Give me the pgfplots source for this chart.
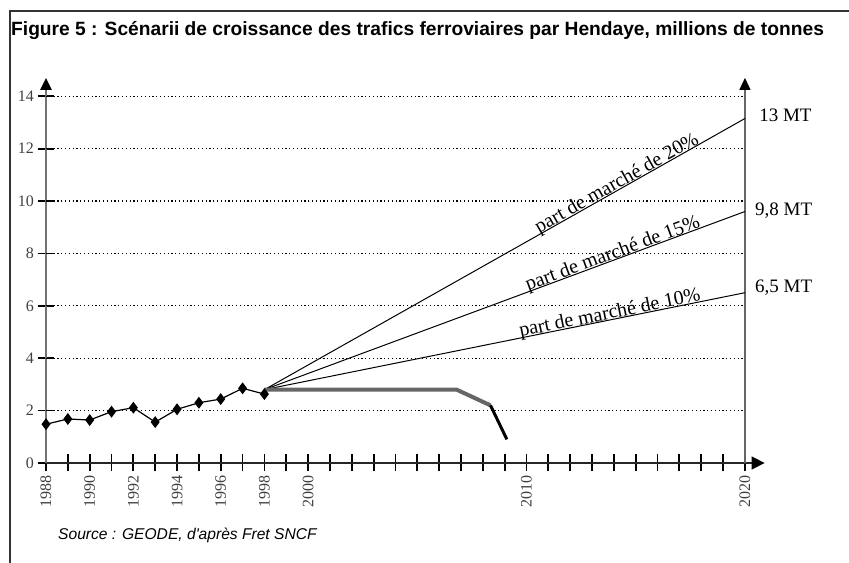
\documentclass[border=0pt]{standalone}
\usepackage{fontspec}
\setmainfont{Liberation Serif}
\newfontfamily\arial{Liberation Sans}
\usepackage{pgfplots}
\pgfplotsset{compat=1.18}
\usetikzlibrary{arrows.meta}
\begin{document}
\begin{tikzpicture}[x=1bp,y=1bp]
\useasboundingbox (0,0) rectangle (849,563);
\draw[line width=1.5bp, black!80] (10,0) -- (10,552) -- (849,552);
\node[anchor=base west, inner sep=0] at (11,527) {\arial\bfseries\fontsize{19.2bp}{22bp}\selectfont Figure 5 : Scénarii de croissance des trafics ferroviaires par Hendaye, millions de tonnes};
\node[anchor=base west, inner sep=0] at (58,23) {\arial\itshape\fontsize{15.6bp}{18bp}\selectfont Source : GEODE, d'après Fret SNCF};
\begin{axis}[
 at={(46bp,100bp)}, anchor=south west, scale only axis,
 width=718.6bp, height=385.1bp,
 xmin=1988, xmax=2020.9, ymin=0, ymax=14.7,
 axis lines=left, clip=false,
 x axis line style={draw=black!85, line width=1.5bp, -{Triangle[length=13bp,width=13bp,color=black]}},
 y axis line style={draw=black!55, line width=2.5bp, -{Triangle[length=12bp,width=11bp,color=black]}},
 xtick={1988,1989,...,2020},
 xticklabels={1988,,1990,,1992,,1994,,1996,,1998,,2000,,,,,,,,,,2010,,,,,,,,,,2020},
 ytick={0,2,...,14},
 tick align=center, major tick length=17bp,
 every tick/.style={black, line width=1.8bp},
 xticklabel style={rotate=90, anchor=east, font=\fontsize{16bp}{16bp}\selectfont, text=black!75},
 yticklabel style={font=\fontsize{16bp}{16bp}\selectfont, text=black!75},
 /pgf/number format/assume math mode=true,
]
\pgfplotsinvokeforeach{2,4,...,14}{
 \draw[black, line width=1.2bp, dash pattern=on 1.2bp off 2.6bp] (axis cs:1988,#1) -- (axis cs:2020,#1);
}
\draw[black!60, line width=1.3bp, -{Triangle[length=12bp,width=11bp,color=black]}] (axis cs:2020,0) -- (axis cs:2020,14.7);
\addplot[black, line width=1.2bp, mark=diamond*, mark size=5bp] coordinates {(1988,1.48)(1989,1.68)(1990,1.64)(1991,1.96)(1992,2.11)(1993,1.56)(1994,2.05)(1995,2.30)(1996,2.44)(1997,2.85)(1998,2.63)};
\addplot[black, line width=1bp] coordinates {(1998,2.8)(2020,13.15)};
\addplot[black, line width=1bp] coordinates {(1998,2.8)(2020,9.6)};
\addplot[black, line width=1bp] coordinates {(1998,2.8)(2020,6.5)};
\addplot[black!60, line width=4bp, line join=round] coordinates {(1998,2.8)(2006.8,2.8)(2008.35,2.2)};
\addplot[black, line width=3bp] coordinates {(2008.35,2.2)(2009.1,0.9)};
\node[rotate=29.4, anchor=base, inner sep=0, yshift=1bp, font=\fontsize{20bp}{20bp}\selectfont] at (axis cs:2014.28,10.46) {part de marché de 20\%};
\node[rotate=20.3, anchor=base, inner sep=0, yshift=1bp, font=\fontsize{20bp}{20bp}\selectfont] at (axis cs:2014.05,7.76) {part de marché de 15\%};
\node[rotate=11.4, anchor=base, inner sep=0, yshift=1bp, font=\fontsize{20bp}{20bp}\selectfont] at (axis cs:2013.87,5.47) {part de marché de 10\%};
\node[anchor=west, inner sep=0, font=\fontsize{19bp}{19bp}\selectfont] at (axis cs:2020.65,13.28) {13 MT};
\node[anchor=west, inner sep=0, font=\fontsize{19bp}{19bp}\selectfont] at (axis cs:2020.46,9.62) {9,8 MT};
\node[anchor=west, inner sep=0, font=\fontsize{19bp}{19bp}\selectfont] at (axis cs:2020.46,6.68) {6,5 MT};
\end{axis}
\end{tikzpicture}
\end{document}
